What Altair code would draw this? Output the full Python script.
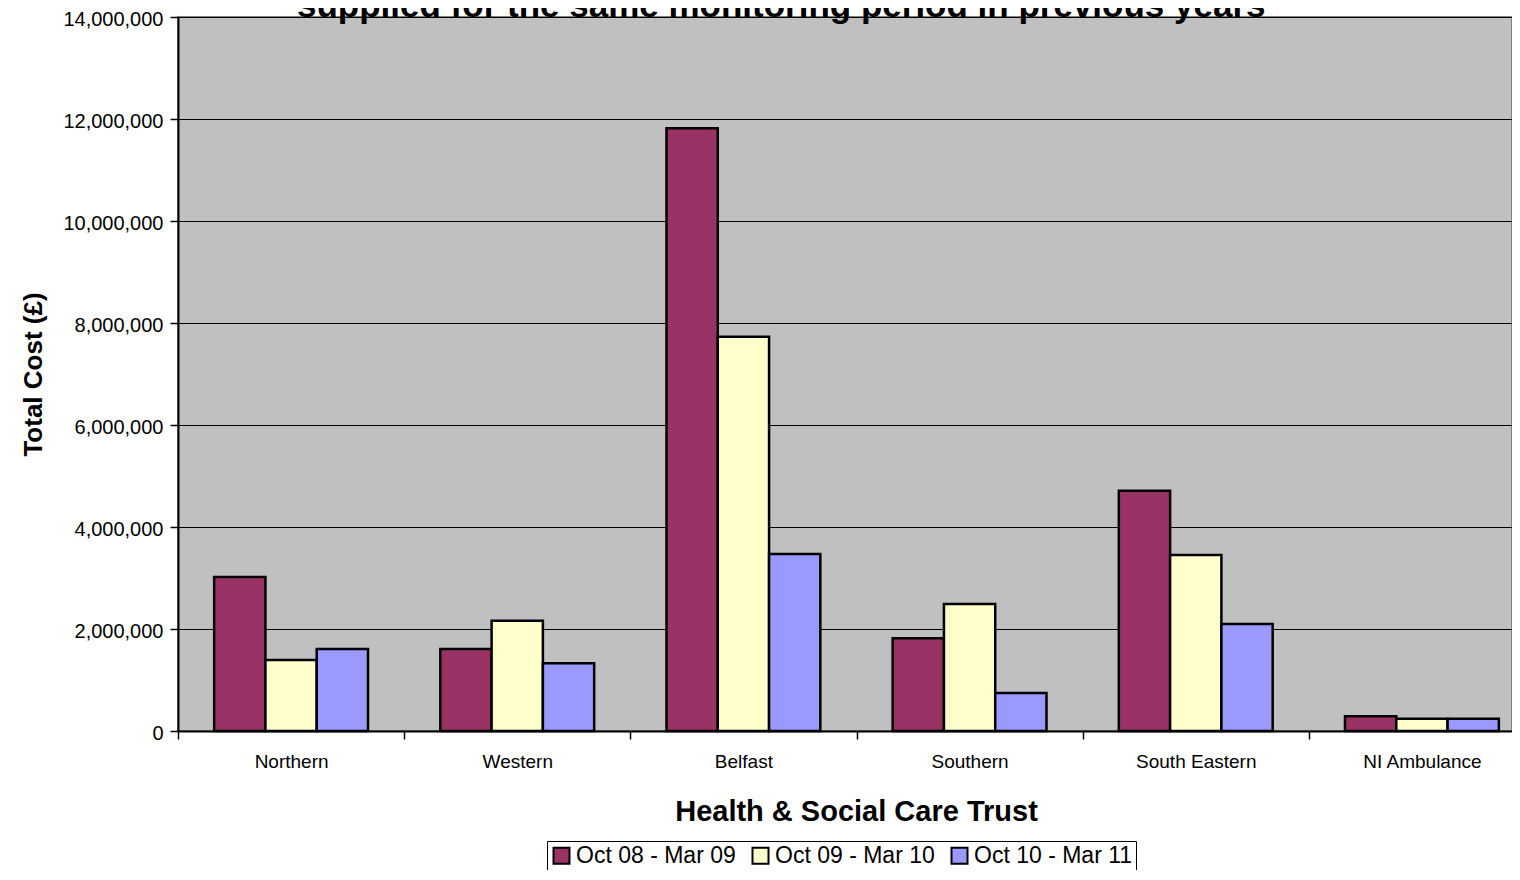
import altair as alt
import pandas as pd

trusts = ["Northern", "Western", "Belfast", "Southern", "South Eastern", "NI Ambulance"]
periods = ["Oct 08 - Mar 09", "Oct 09 - Mar 10", "Oct 10 - Mar 11"]
cost_0809 = [3020000, 1610000, 11820000, 1820000, 4710000, 290000]
cost_0910 = [1390000, 2160000, 7730000, 2490000, 3450000, 240000]
cost_1011 = [1610000, 1330000, 3470000, 745000, 2100000, 240000]
colors = ["#993366", "#FFFFCC", "#9999FF"]
y_ticks = [0, 2000000, 4000000, 6000000, 8000000, 10000000, 12000000, 14000000]
title_text = "supplied for the same monitoring period in previous years"

rows = []
for series, vals in zip(periods, [cost_0809, cost_0910, cost_1011]):
    for t, v in zip(trusts, vals):
        rows.append({"Trust": t, "Period": series, "Cost": v})
df = pd.DataFrame(rows)

FONT = "Liberation Sans"

bars = alt.Chart(df).mark_bar(stroke="black", strokeWidth=2.5).encode(
    x=alt.X(
        "Trust:N",
        sort=trusts,
        scale=alt.Scale(range=[0, 1357], paddingInner=0, paddingOuter=0),
        axis=alt.Axis(
            title="Health & Social Care Trust",
            titleFont=FONT, titleFontSize=29, titleFontWeight="bold", titleColor="black",
            titleX=678, titleY=89, titleBaseline="alphabetic", titleAnchor="middle",
            labelFont=FONT, labelFontSize=19, labelColor="black", labelAngle=0,
            labelBaseline="alphabetic", labelPadding=28,
            tickBand="extent", tickSize=8, tickColor="black", tickWidth=1.5,
            domainColor="black", domainWidth=2, grid=False,
        ),
    ),
    xOffset=alt.XOffset("Period:N", sort=periods,
                        scale=alt.Scale(paddingInner=0, paddingOuter=0.705)),
    y=alt.Y(
        "Cost:Q",
        scale=alt.Scale(domain=[0, 14000000], nice=False),
        axis=alt.Axis(
            title="Total Cost (£)",
            titleFont=FONT, titleFontSize=26, titleFontWeight="bold", titleColor="black",
            titlePadding=16,
            values=y_ticks, format=",.0f",
            labelFont=FONT, labelFontSize=20, labelColor="black", labelPadding=7,
            labelOffset=2,
            tickSize=8, tickColor="black", tickWidth=1.5,
            domainColor="black", domainWidth=2,
            grid=True, gridColor="black", gridWidth=1,
        ),
    ),
    color=alt.Color(
        "Period:N",
        sort=periods,
        scale=alt.Scale(domain=periods, range=colors),
        legend=alt.Legend(
            title=None, orient="none", direction="horizontal",
            legendX=369, legendY=824,
            strokeColor="black", fillColor="white", padding=3,
            symbolType="square", symbolSize=256, symbolStrokeColor="black",
            symbolStrokeWidth=2, symbolOpacity=1,
            labelFont=FONT, labelFontSize=23, labelColor="black", labelOffset=3,
            columnPadding=12, labelLimit=300,
        ),
    ),
)

title = alt.Chart(pd.DataFrame({"t": [title_text]})).mark_text(
    font=FONT, fontSize=35, fontWeight="bold", color="black",
    align="left", baseline="alphabetic",
).encode(text="t:N", x=alt.value(119), y=alt.value(0))

chart = alt.layer(bars, title).properties(
    width=1334,
    height=714,
    background="white",
    autosize=alt.AutoSizeParams(type="none"),
    padding={"left": 170, "top": 9, "right": 0, "bottom": 139},
).configure_view(
    fill="#C0C0C0", stroke="#808080", strokeWidth=2,
)

chart.save("out.html", embed_options={"renderer": "svg", "actions": False})
